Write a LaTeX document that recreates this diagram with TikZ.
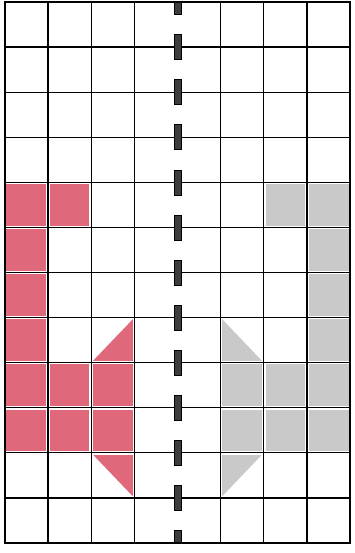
\documentclass[tikz,border=0pt]{standalone}
\definecolor{redc}{HTML}{E0687B}
\definecolor{grayc}{HTML}{C9C9C9}
\definecolor{dashc}{HTML}{3C3C3C}
\begin{document}
\begin{tikzpicture}[x=1pt,y=-1pt,
  gridhalo/.style={white,line width=3.6pt},
  gridline/.style={black,line width=1.3pt},
  border/.style={black,line width=2.4pt},
  dashbar/.style={fill=dashc,draw=black,line width=0.6pt}]
\useasboundingbox (0,0) rectangle (354,553);
\pgfmathsetmacro{\cw}{43.125}
\pgfmathsetmacro{\rh}{45.083}
\newcommand{\mycell}[3]{\fill[#3] ({5+#1*\cw},{2+#2*\rh}) rectangle ++(\cw,\rh);}
% red L shape
\foreach \c/\r in {0/4,1/4,0/5,0/6,0/7,0/8,1/8,2/8,0/9,1/9,2/9}{\mycell{\c}{\r}{redc}}
\fill[redc] ({5+3*\cw},{2+7*\rh}) -- ({5+2*\cw},{2+8*\rh}) -- ({5+3*\cw},{2+8*\rh}) -- cycle;
\fill[redc] ({5+2*\cw},{2+10*\rh}) -- ({5+3*\cw},{2+10*\rh}) -- ({5+3*\cw},{2+11*\rh}) -- cycle;
% gray mirror
\foreach \c/\r in {7/4,6/4,7/5,7/6,7/7,7/8,6/8,5/8,7/9,6/9,5/9}{\mycell{\c}{\r}{grayc}}
\fill[grayc] ({5+5*\cw},{2+7*\rh}) -- ({5+5*\cw},{2+8*\rh}) -- ({5+6*\cw},{2+8*\rh}) -- cycle;
\fill[grayc] ({5+5*\cw},{2+10*\rh}) -- ({5+6*\cw},{2+10*\rh}) -- ({5+5*\cw},{2+11*\rh}) -- cycle;
% grid
\foreach \i in {1,2,3,5,6,7}{\draw[gridhalo] ({5+\i*\cw},2) -- ({5+\i*\cw},543);}
\foreach \j in {1,...,11}{\draw[gridhalo] (5,{2+\j*\rh}) -- (350,{2+\j*\rh});}
\foreach \i in {1,2,3,5,6,7}{\draw[gridline] ({5+\i*\cw},2) -- ({5+\i*\cw},543);}
\foreach \j in {1,...,11}{\draw[gridline] (5,{2+\j*\rh}) -- (350,{2+\j*\rh});}
% dashed axis
\begin{scope}
\clip (5,2) rectangle (350,543);
\foreach \j in {0,...,12}{\draw[dashbar] (174.5,{2+\j*\rh-12.5}) rectangle (181,{2+\j*\rh+12.5});}
\end{scope}
\draw[border] (5,2) rectangle (350,543);
\end{tikzpicture}
\end{document}
